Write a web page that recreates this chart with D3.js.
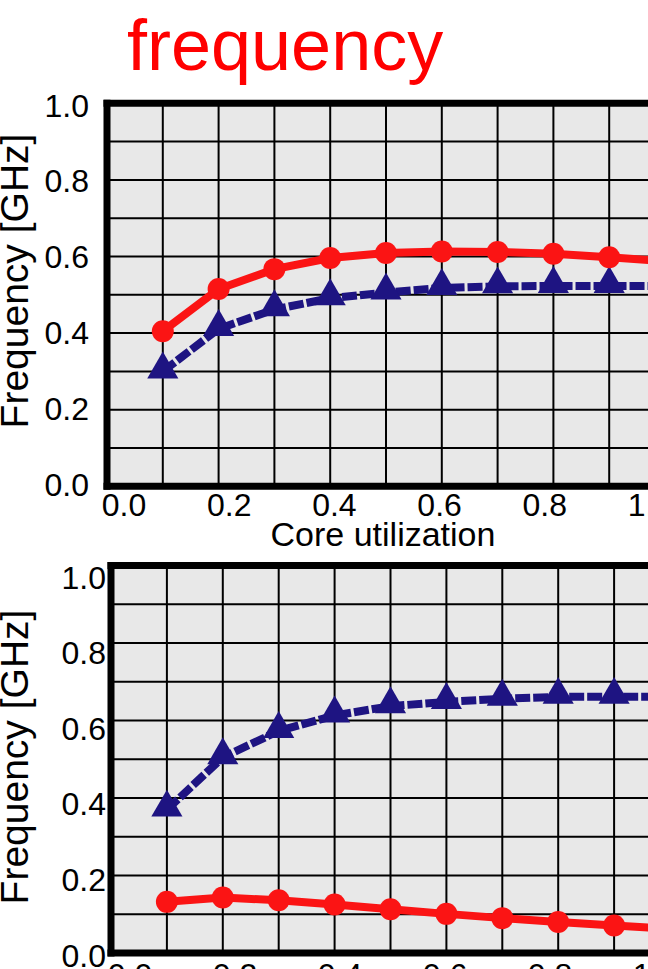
<!DOCTYPE html>
<html>
<head>
<meta charset="utf-8">
<script src="https://cdn.jsdelivr.net/npm/d3@7"></script>
<style>
  html, body { margin: 0; padding: 0; background: #ffffff; overflow: hidden; }
  svg { display: block; font-family: "Liberation Sans", Arial, Helvetica, sans-serif; }
</style>
</head>
<body>
<svg id="chart" width="648" height="969"></svg>
<script>
// Core utilization at each measured point
const utilization = [0.1, 0.2, 0.3, 0.4, 0.5, 0.6, 0.7, 0.8, 0.9, 1.0];

// Upper panel frequencies [GHz]
const upperCircle   = [0.405, 0.515, 0.567, 0.596, 0.609, 0.613, 0.612, 0.607, 0.598, 0.588];
const upperTriangle = [0.300, 0.411, 0.462, 0.491, 0.506, 0.518, 0.522, 0.523, 0.523, 0.523];

// Lower panel frequencies [GHz]
const lowerCircle   = [0.132, 0.143, 0.136, 0.125, 0.113, 0.101, 0.090, 0.080, 0.071, 0.062];
const lowerTriangle = [0.370, 0.505, 0.573, 0.613, 0.637, 0.648, 0.656, 0.661, 0.661, 0.661];

// Axis ticks and labels
const gridSteps  = [0, 0.1, 0.2, 0.3, 0.4, 0.5, 0.6, 0.7, 0.8, 0.9, 1.0];
const tickValues = [0, 0.2, 0.4, 0.6, 0.8, 1.0];
const titleText  = "frequency";
const xTitle     = "Core utilization";
const yTitle     = "Frequency [GHz]";

const RED  = "#fb1414";
const NAVY = "#1e1482";

const svg = d3.select("#chart");

svg.append("text")
  .attr("x", 127)
  .attr("y", 70)
  .attr("font-size", 72)
  .attr("fill", "#ff0000")
  .text(titleText);

function panel(cfg, circleVals, triVals) {
  const x = d3.scaleLinear().domain([0, 1]).range([cfg.left, cfg.left + cfg.unitW]);
  const y = d3.scaleLinear().domain([0, 1]).range([cfg.bottom, cfg.top]);
  // tick labels sit on their own slightly offset scales
  const xLabel = d3.scaleLinear().domain([0, 1]).range(cfg.xLabelRange);
  const yLabel = d3.scaleLinear().domain([0, 1]).range(cfg.yLabelRange);
  const right = 700;

  const g = svg.append("g");

  g.append("rect")
    .attr("x", cfg.left).attr("y", cfg.top)
    .attr("width", right - cfg.left).attr("height", cfg.bottom - cfg.top)
    .attr("fill", "#e8e8e8");

  // grid
  g.selectAll("line.h").data(gridSteps.slice(1, -1)).join("line")
    .attr("x1", cfg.left).attr("x2", right)
    .attr("y1", d => y(d)).attr("y2", d => y(d))
    .attr("stroke", "#000").attr("stroke-width", 2);
  g.selectAll("line.v").data(gridSteps.slice(1)).join("line")
    .attr("x1", d => x(d)).attr("x2", d => x(d))
    .attr("y1", cfg.top).attr("y2", cfg.bottom)
    .attr("stroke", "#000").attr("stroke-width", 2);

  // heavy frame
  const fw = 7;
  g.append("line").attr("x1", cfg.left - fw / 2).attr("x2", right)
    .attr("y1", cfg.top).attr("y2", cfg.top)
    .attr("stroke", "#000").attr("stroke-width", fw);
  g.append("line").attr("x1", cfg.left - fw / 2).attr("x2", right)
    .attr("y1", cfg.bottom).attr("y2", cfg.bottom)
    .attr("stroke", "#000").attr("stroke-width", fw);
  g.append("line").attr("x1", cfg.left).attr("x2", cfg.left)
    .attr("y1", cfg.top - fw / 2).attr("y2", cfg.bottom + fw / 2)
    .attr("stroke", "#000").attr("stroke-width", fw);

  const pts = vals => utilization.map((u, i) => [x(u), y(vals[i])]);
  const line = d3.line();

  // dashed triangle series
  g.append("path").attr("d", line(pts(triVals)))
    .attr("fill", "none").attr("stroke", NAVY).attr("stroke-width", 8)
    .attr("stroke-dasharray", "15,3");
  const tri = d3.symbol().type(d3.symbolTriangle).size(420);
  g.selectAll("path.tri").data(pts(triVals)).join("path")
    .attr("d", tri)
    .attr("transform", d => `translate(${d[0]},${d[1] - 2})`)
    .attr("fill", NAVY);

  // solid circle series
  g.append("path").attr("d", line(pts(circleVals)))
    .attr("fill", "none").attr("stroke", RED).attr("stroke-width", 8);
  g.selectAll("circle.c").data(pts(circleVals)).join("circle")
    .attr("cx", d => d[0]).attr("cy", d => d[1]).attr("r", 11)
    .attr("fill", RED);

  // y tick labels (vertically centred on their label positions)
  g.selectAll("text.yt").data(tickValues).join("text")
    .attr("x", cfg.yLabelRight)
    .attr("y", d => yLabel(d) + 11.5)
    .attr("text-anchor", "end")
    .attr("font-size", 32)
    .attr("fill", "#000")
    .text(d => d.toFixed(1));

  // x tick labels
  g.selectAll("text.xt").data(tickValues).join("text")
    .attr("x", d => xLabel(d))
    .attr("y", cfg.xLabelBase)
    .attr("text-anchor", "middle")
    .attr("font-size", 32)
    .attr("fill", "#000")
    .text(d => d.toFixed(1));

  // axis titles
  g.append("text")
    .attr("transform", `translate(28,${cfg.yTitleMid}) rotate(-90)`)
    .attr("text-anchor", "middle")
    .attr("font-size", 39)
    .attr("fill", "#000")
    .text(yTitle);

  if (cfg.showXTitle) {
    g.append("text")
      .attr("x", 383).attr("y", 546)
      .attr("text-anchor", "middle")
      .attr("font-size", 34)
      .attr("fill", "#000")
      .text(xTitle);
  }
}

panel({
  left: 107, unitW: 558, top: 103.3, bottom: 486.3,
  xLabelRange: [124, 650], xLabelBase: 516,
  yLabelRange: [484, 105], yLabelRight: 89,
  yTitleMid: 281, showXTitle: true
}, upperCircle, upperTriangle);

panel({
  left: 111, unitW: 559, top: 565.5, bottom: 953,
  xLabelRange: [130, 655], xLabelBase: 986,
  yLabelRange: [955, 577], yLabelRight: 106,
  yTitleMid: 757, showXTitle: false
}, lowerCircle, lowerTriangle);
</script>
</body>
</html>
